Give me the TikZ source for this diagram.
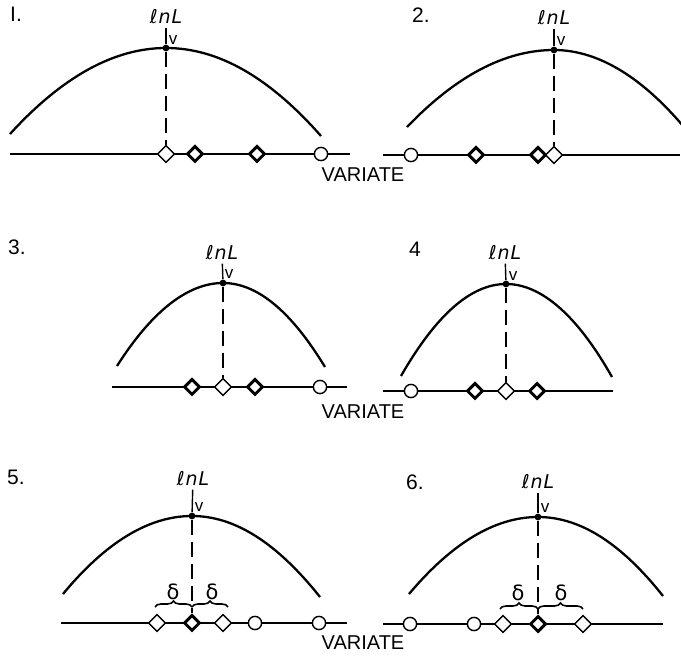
\documentclass[tikz,border=0pt]{standalone}
\usepackage{fontspec}
\setmainfont{Liberation Sans}
\newfontfamily\lnfont{DejaVu Sans}
\usetikzlibrary{shapes.geometric, decorations.pathreplacing}

\begin{document}
\begin{tikzpicture}[x=0.5pt, y=-0.5pt,
    curve/.style={line width=1.15pt},
    axis/.style={line width=0.9pt},
    tick/.style={line width=0.7pt},
    drop/.style={line width=0.8pt, dash pattern=on 7.5pt off 3.5pt},
    dot/.style={circle, fill, inner sep=0pt, minimum size=3.4pt},
    dia/.style={diamond, draw, fill=white, line width=0.7pt, inner sep=0pt, minimum size=8.6pt},
    diaB/.style={dia, line width=1.5pt, minimum size=8pt},
    ring/.style={circle, draw, fill=white, line width=0.7pt, inner sep=0pt, minimum size=6.6pt},
    lnl/.style={inner sep=1.5pt, font=\lnfont\itshape\fontsize{9.5}{11}\selectfont},
    vlab/.style={inner sep=0pt, font=\fontsize{8.5}{10}\selectfont},
    num/.style={inner sep=0pt, font=\fontsize{10.5}{12}\selectfont},
    var/.style={inner sep=0pt, font=\fontsize{10}{12}\selectfont},
    dlt/.style={inner sep=0pt, font=\lnfont\fontsize{10.5}{12}\selectfont},
    brc/.style={decorate, decoration={brace, amplitude=3pt}, line width=0.8pt}]

  \useasboundingbox (0,0) rectangle (681,657);

  % panel 1
  \node[num] (n1) at (16,14) {I.};
  \node[lnl] (ln1) at (166,17) {ℓ\kern.5pt n\kern.5pt L};
  \node[vlab] (v1) at (173,40) {v};
  \coordinate (a1l) at (10,154);
  \coordinate (a1r) at (350,154);
  \coordinate (c1l) at (10,134);
  \coordinate (c1r) at (321,136);
  \draw[axis] (a1l) -- (a1r);
  \node[dia] (m1a) at (166,154) {};
  \node[diaB] (m1b) at (195,154) {};
  \node[diaB] (m1c) at (257,154) {};
  \node[ring] (m1d) at (321,154) {};
  \node[dot] (p1) at (166,48) {};
  \draw[tick] (ln1) -- (p1);
  \draw[drop] (p1) -- (m1a);
  \draw[curve] (c1l) .. controls +(52,-57) and +(-52,0) .. (p1.center)
    .. controls +(52,0) and +(-52,-59) .. (c1r);

  % panel 2
  \node[num] (n2) at (421,15) {2.};
  \node[lnl] (ln2) at (554,18) {ℓ\kern.5pt n\kern.5pt L};
  \node[vlab] (v2) at (561,41) {v};
  \coordinate (a2l) at (383,155);
  \coordinate (a2r) at (680,155);
  \coordinate (c2l) at (407,127);
  \coordinate (c2r) at (696,142);
  \draw[axis] (a2l) -- (a2r);
  \node[ring] (m2a) at (411,155) {};
  \node[diaB] (m2b) at (476,155) {};
  \node[diaB] (m2c) at (538,155) {};
  \node[dia] (m2d) at (554,155) {};
  \node[dot] (p2) at (554,50) {};
  \draw[tick] (ln2) -- (p2);
  \draw[drop] (p2) -- (m2d);
  \begin{scope}
    \clip (0,0) rectangle (681,657);
    \draw[curve] (c2l) .. controls +(49,-51) and +(-49,0) .. (p2.center)
      .. controls +(47,0) and +(-47,-61) .. (c2r);
  \end{scope}
  \node[var] (var1) at (363,175) {VARIATE};

  % panel 3
  \node[num] (n3) at (17,247) {3.};
  \node[lnl] (ln3) at (222,253) {ℓ\kern.5pt n\kern.5pt L};
  \node[vlab] (v3) at (229,274) {v};
  \coordinate (a3l) at (112,387);
  \coordinate (a3r) at (347,387);
  \coordinate (c3l) at (117,366);
  \coordinate (c3r) at (325,367);
  \draw[axis] (a3l) -- (a3r);
  \node[diaB] (m3a) at (192,387) {};
  \node[dia] (m3b) at (223,387) {};
  \node[diaB] (m3c) at (255,387) {};
  \node[ring] (m3d) at (320,387) {};
  \node[dot] (p3) at (223,283) {};
  \draw[tick] (ln3) -- (p3);
  \draw[drop] (p3) -- (m3b);
  \draw[curve] (c3l) .. controls +(35,-55) and +(-35,0) .. (p3.center)
    .. controls +(34,0) and +(-34,-56) .. (c3r);

  % panel 4
  \node[num] (n4) at (415,249) {4};
  \node[lnl] (ln4) at (505,253) {ℓ\kern.5pt n\kern.5pt L};
  \node[vlab] (v4) at (513,276) {v};
  \coordinate (a4l) at (383,391);
  \coordinate (a4r) at (613,391);
  \coordinate (c4l) at (401,376);
  \coordinate (c4r) at (612,377);
  \draw[axis] (a4l) -- (a4r);
  \node[ring] (m4a) at (411,391) {};
  \node[diaB] (m4b) at (475,391) {};
  \node[dia] (m4c) at (506,391) {};
  \node[diaB] (m4d) at (537,391) {};
  \node[dot] (p4) at (506,284) {};
  \draw[tick] (ln4) -- (p4);
  \draw[drop] (p4) -- (m4c);
  \draw[curve] (c4l) .. controls +(35,-61) and +(-35,0) .. (p4.center)
    .. controls +(35,0) and +(-35,-62) .. (c4r);
  \node[var] (var2) at (363,412) {VARIATE};

  % panel 5
  \node[num] (n5) at (16,477) {5.};
  \node[lnl] (ln5) at (193,479) {ℓ\kern.5pt n\kern.5pt L};
  \node[vlab] (v5) at (199,507) {v};
  \coordinate (a5l) at (61,623);
  \coordinate (a5r) at (347,623);
  \coordinate (c5l) at (63,594);
  \coordinate (c5r) at (320,597);
  \draw[axis] (a5l) -- (a5r);
  \node[dia] (m5a) at (157,623) {};
  \node[diaB] (m5b) at (192,623) {};
  \node[dia] (m5c) at (223,623) {};
  \node[ring] (m5d) at (255,623) {};
  \node[ring] (m5e) at (319,623) {};
  \node[dot] (p5) at (192,516) {};
  \draw[tick] (ln5) -- (p5);
  \draw[drop] (p5) -- (m5b);
  \draw[curve] (c5l) .. controls +(43,-52) and +(-43,0) .. (p5.center)
    .. controls +(43,0) and +(-43,-54) .. (c5r);
  \coordinate (b5a) at (155,607);
  \coordinate (b5b) at (192,607);
  \coordinate (b5c) at (228,607);
  \draw[brc] (b5a) -- (b5b);
  \draw[brc] (b5b) -- (b5c);
  \node[dlt] (d5a) at (173,592) {δ};
  \node[dlt] (d5b) at (212,592) {δ};

  % panel 6
  \node[num] (n6) at (415,482) {6.};
  \node[lnl] (ln6) at (538,482) {ℓ\kern.5pt n\kern.5pt L};
  \node[vlab] (v6) at (545,508) {v};
  \coordinate (a6l) at (383,624);
  \coordinate (a6r) at (663,624);
  \coordinate (c6l) at (409,594);
  \coordinate (c6r) at (663,596);
  \draw[axis] (a6l) -- (a6r);
  \node[ring] (m6a) at (410,624) {};
  \node[ring] (m6b) at (474,624) {};
  \node[dia] (m6c) at (503,624) {};
  \node[diaB] (m6d) at (538,624) {};
  \node[dia] (m6e) at (583,624) {};
  \node[dot] (p6) at (538,517) {};
  \draw[tick] (ln6) -- (p6);
  \draw[drop] (p6) -- (m6d);
  \draw[curve] (c6l) .. controls +(43,-51) and +(-43,0) .. (p6.center)
    .. controls +(42,0) and +(-42,-53) .. (c6r);
  \coordinate (b6a) at (500,609);
  \coordinate (b6b) at (538,609);
  \coordinate (b6c) at (583,609);
  \draw[brc] (b6a) -- (b6b);
  \draw[brc] (b6b) -- (b6c);
  \node[dlt] (d6a) at (518,593) {δ};
  \node[dlt] (d6b) at (561,593) {δ};
  \node[var] (var3) at (363,643) {VARIATE};
\end{tikzpicture}
\end{document}
